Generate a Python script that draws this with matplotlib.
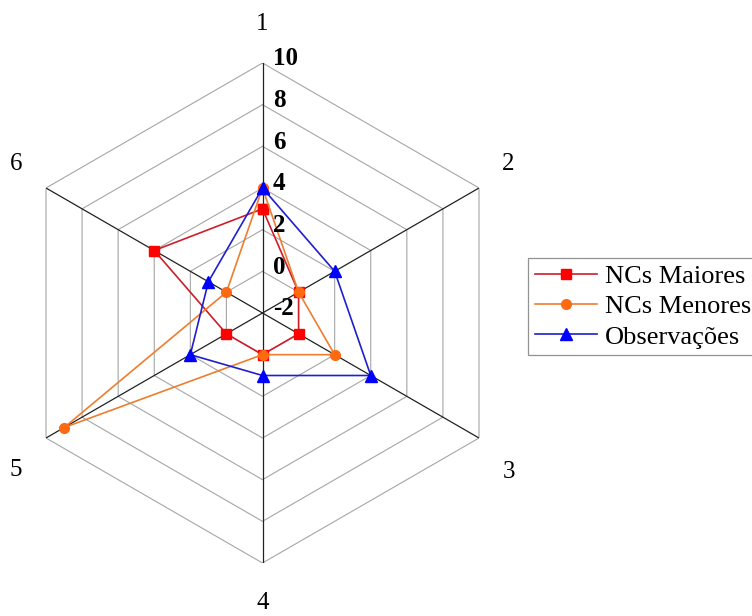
import numpy as np
import matplotlib
matplotlib.use("Agg")
import matplotlib.pyplot as plt

plt.rcParams["font.family"] = ["Liberation Serif", "DejaVu Serif"]

categories = ["1", "2", "3", "4", "5", "6"]
nc_maiores = [3, 0, 0, 0, 0, 4]
nc_menores = [4, 0, 2, 0, 9, 0]
observacoes = [4, 2, 4, 1, 2, 1]
ring_values = [-2, 0, 2, 4, 6, 8, 10]

R_MIN, R_MAX = -2, 10

# label offsets from the centre, in pixels (x right, y up) -> visual centre of digit
label_offsets_px = [(0, 291), (246, 151), (246, -157), (0, -288), (-247, -155), (-246, 151)]

fig = plt.figure(figsize=(7.52, 6.16), dpi=100)
ax = fig.add_axes([12.5 / 752, (616 - 313 - 250) / 616, 500 / 752, 500 / 616], projection="polar")
ax.set_theta_offset(np.pi / 2)
ax.set_theta_direction(-1)
ax.set_ylim(R_MIN, R_MAX)
ax.grid(False)
ax.set_xticks([])
ax.set_yticks([])
ax.spines["polar"].set_visible(False)
ax.patch.set_alpha(0)

n = len(categories)
angles = np.arange(n) * 2 * np.pi / n
closed = np.append(angles, angles[0])

# hexagon rings
for v in ring_values[1:]:
    ax.plot(closed, [v] * (n + 1), color="#a6a6a6", lw=0.8, zorder=1)

# spokes
for a in angles:
    ax.plot([a, a], [R_MIN, R_MAX], color="#222222", lw=0.9, zorder=2)

# ring value labels along axis 1
for v in ring_values:
    ax.annotate(str(v), xy=(0, v), xytext=(7.5, 3), textcoords="offset points",
                ha="left", va="center", fontsize=18, fontweight="bold", zorder=6)

# category labels
fs_cat = 18
digit_half = 0.33 * fs_cat  # points, half the digit height
for (dx, dy), lab in zip(label_offsets_px, categories):
    ax.annotate(lab, xy=(0, R_MIN), xytext=(dx * 0.72, dy * 0.72 - digit_half),
                textcoords="offset points", ha="center", va="baseline",
                fontsize=fs_cat, annotation_clip=False)

series = [
    ("NCs Maiores", nc_maiores, "#cc1f2a", "#ff0000", "s", 6.5),
    ("NCs Menores", nc_menores, "#ee7d2f", "#ff6a10", "o", 7),
    ("Observações", observacoes, "#1f1fcc", "#0000ff", "^", 8),
]
for i, (name, vals, lc, mc, mk, ms) in enumerate(series):
    vals_c = vals + vals[:1]
    ax.plot(closed, vals_c, color=lc, lw=1.2, marker=mk, markersize=ms,
            markerfacecolor=mc, markeredgecolor=mc, label=name, zorder=3 + i,
            clip_on=False)

leg = fig.legend(loc="upper left", bbox_to_anchor=(528 / 752, 1 - 258 / 616),
                 bbox_transform=fig.transFigure, fontsize=19, frameon=True,
                 fancybox=False, edgecolor="#777777", borderaxespad=0,
                 handlelength=2.35, handletextpad=0.3, labelspacing=0.26,
                 borderpad=0.25)
leg.get_frame().set_linewidth(0.9)

fig.savefig("out.png", dpi=100)
